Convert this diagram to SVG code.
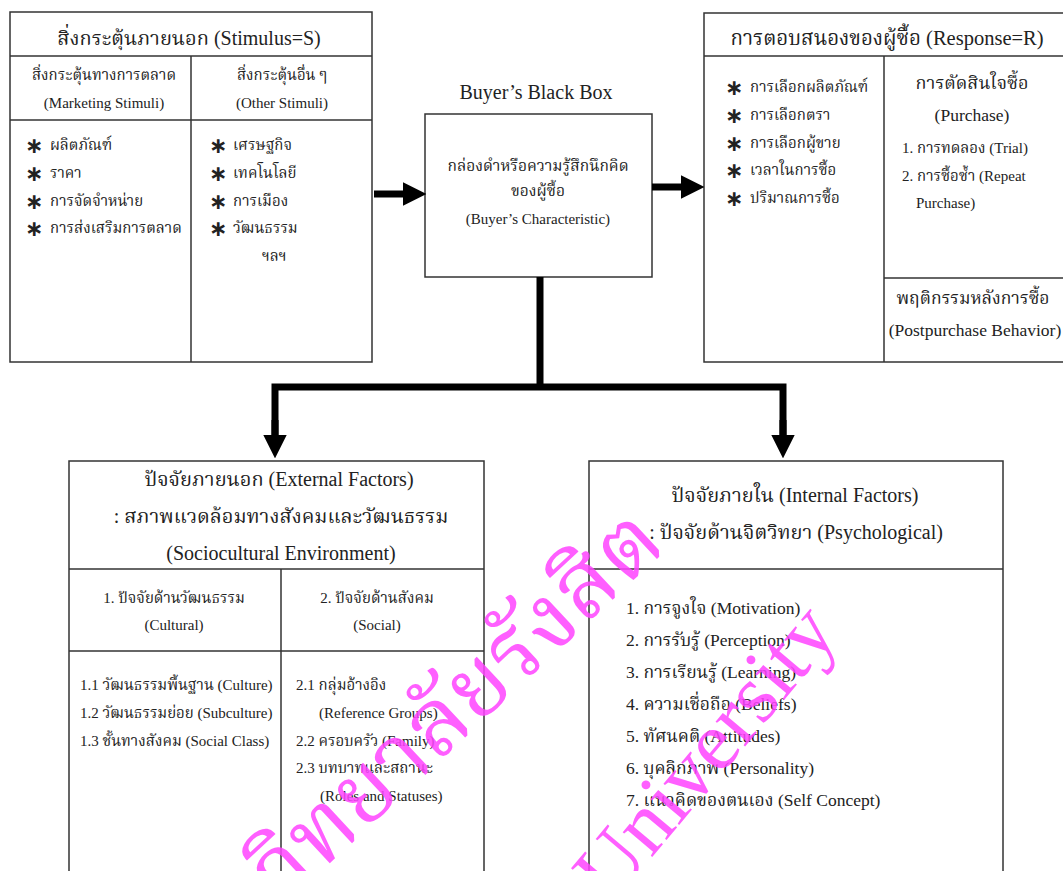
<svg xmlns="http://www.w3.org/2000/svg" width="1063" height="871" viewBox="0 0 1063 871">
<style>
text{font-family:"Liberation Serif","Noto Serif Thai","Noto Sans Thai",serif;fill:#222}
.box{fill:#fff;stroke:#333;stroke-width:1.5}
.ln{stroke:#333;stroke-width:1.5;fill:none}
.t1{font-size:20px}
.t15{font-size:15px}
.t17{font-size:17.5px}
.c{text-anchor:middle}
.star{font-family:"DejaVu Sans",sans-serif;font-size:22px;font-weight:bold;fill:#222}
.conn{stroke:#000;stroke-width:7;fill:none}
.wm{fill:#ff44ff;opacity:0.85}
</style>
<defs>
<marker id="ah" markerWidth="3.4" markerHeight="3.4" refX="0.2" refY="1.7" orient="auto" markerUnits="strokeWidth">
<path d="M0,0 L3.4,1.7 L0,3.4 z" fill="#000"/>
</marker>
</defs>

<g id="stimulus">
<rect class="box" x="10" y="12" width="362" height="350"/>
<line class="ln" x1="10" y1="56" x2="372" y2="56"/>
<line class="ln" x1="10" y1="120" x2="372" y2="120"/>
<line class="ln" x1="191" y1="56" x2="191" y2="362"/>
<text class="t1 c" x="189" y="45">สิ่งกระตุ้นภายนอก (Stimulus=S)</text>
<text class="t15 c" x="104" y="80">สิ่งกระตุ้นทางการตลาด</text>
<text class="t15 c" x="104" y="108">(Marketing Stimuli)</text>
<text class="t15 c" x="282" y="80">สิ่งกระตุ้นอื่น ๆ</text>
<text class="t15 c" x="282" y="108">(Other Stimuli)</text>
<text class="star" x="25" y="153">∗</text><text class="t15" x="50" y="150">ผลิตภัณฑ์</text>
<text class="star" x="25" y="181">∗</text><text class="t15" x="50" y="178">ราคา</text>
<text class="star" x="25" y="209">∗</text><text class="t15" x="50" y="206">การจัดจำหน่าย</text>
<text class="star" x="25" y="236">∗</text><text class="t15" x="50" y="233">การส่งเสริมการตลาด</text>
<text class="star" x="209" y="153">∗</text><text class="t15" x="233" y="150">เศรษฐกิจ</text>
<text class="star" x="209" y="181">∗</text><text class="t15" x="233" y="178">เทคโนโลยี</text>
<text class="star" x="209" y="209">∗</text><text class="t15" x="233" y="206">การเมือง</text>
<text class="star" x="209" y="236">∗</text><text class="t15" x="233" y="233">วัฒนธรรม</text>
<text class="t15" x="262" y="261">ฯลฯ</text>
</g>

<g id="blackbox">
<text class="t1 c" x="536" y="99">Buyer’s Black Box</text>
<rect class="box" x="425" y="114" width="227" height="163"/>
<text class="c" x="538" y="171" style="font-size:15.5px">กล่องดำหรือความรู้สึกนึกคิด</text>
<text class="c" x="538" y="196" style="font-size:15.5px">ของผู้ซื้อ</text>
<text class="t15 c" x="538" y="224">(Buyer’s Characteristic)</text>
</g>

<g id="response">
<rect class="box" x="704" y="13" width="370" height="349"/>
<line class="ln" x1="704" y1="56" x2="1063" y2="56"/>
<line class="ln" x1="884" y1="56" x2="884" y2="362"/>
<line class="ln" x1="884" y1="278" x2="1063" y2="278"/>
<text class="t1 c" x="887" y="45" style="font-size:20.5px">การตอบสนองของผู้ซื้อ (Response=R)</text>
<text class="star" x="725" y="95">∗</text><text class="t15" x="750" y="92">การเลือกผลิตภัณฑ์</text>
<text class="star" x="725" y="123">∗</text><text class="t15" x="750" y="120">การเลือกตรา</text>
<text class="star" x="725" y="151">∗</text><text class="t15" x="750" y="148">การเลือกผู้ขาย</text>
<text class="star" x="725" y="178">∗</text><text class="t15" x="750" y="175">เวลาในการซื้อ</text>
<text class="star" x="725" y="206">∗</text><text class="t15" x="750" y="203">ปริมาณการซื้อ</text>
<text class="c" x="972" y="89" style="font-size:18px">การตัดสินใจซื้อ</text>
<text class="t17 c" x="972" y="121">(Purchase)</text>
<text class="t15" x="902" y="153">1. การทดลอง (Trial)</text>
<text class="t15" x="902" y="181">2. การซื้อซ้ำ (Repeat</text>
<text class="t15" x="916" y="208">Purchase)</text>
<text class="t17 c" x="973" y="304">พฤติกรรมหลังการซื้อ</text>
<text class="t17 c" x="975" y="336">(Postpurchase Behavior)</text>
</g>

<g id="external">
<rect class="box" x="69" y="461" width="415" height="420"/>
<line class="ln" x1="69" y1="569" x2="484" y2="569"/>
<line class="ln" x1="69" y1="651" x2="484" y2="651"/>
<line class="ln" x1="281" y1="569" x2="281" y2="871"/>
<text class="t1 c" x="279" y="486">ปัจจัยภายนอก (External Factors)</text>
<text class="t1 c" x="281" y="523">: สภาพแวดล้อมทางสังคมและวัฒนธรรม</text>
<text class="t1 c" x="281" y="560">(Sociocultural Environment)</text>
<text class="t15 c" x="174" y="603">1. ปัจจัยด้านวัฒนธรรม</text>
<text class="t15 c" x="174" y="630">(Cultural)</text>
<text class="t15 c" x="377" y="603">2. ปัจจัยด้านสังคม</text>
<text class="t15 c" x="377" y="630">(Social)</text>
<text class="t15" x="80" y="690">1.1 วัฒนธรรมพื้นฐาน (Culture)</text>
<text class="t15" x="80" y="718">1.2 วัฒนธรรมย่อย (Subculture)</text>
<text class="t15" x="80" y="746">1.3 ชั้นทางสังคม (Social Class)</text>
<text class="t15" x="296" y="690">2.1 กลุ่มอ้างอิง</text>
<text class="t15" x="319" y="718">(Reference Groups)</text>
<text class="t15" x="296" y="746">2.2 ครอบครัว (Family)</text>
<text class="t15" x="296" y="773">2.3 บทบาทและสถานะ</text>
<text class="t15" x="320" y="801">(Roles and Statuses)</text>
</g>

<g id="internal">
<rect class="box" x="589" y="461" width="414" height="420"/>
<line class="ln" x1="589" y1="569" x2="1003" y2="569"/>
<text class="t1 c" x="795" y="502">ปัจจัยภายใน (Internal Factors)</text>
<text class="t1 c" x="796" y="539">: ปัจจัยด้านจิตวิทยา (Psychological)</text>
<text class="t17" x="626" y="614">1. การจูงใจ (Motivation)</text>
<text class="t17" x="626" y="646">2. การรับรู้ (Perception)</text>
<text class="t17" x="626" y="678">3. การเรียนรู้ (Learning)</text>
<text class="t17" x="626" y="710">4. ความเชื่อถือ (Beliefs)</text>
<text class="t17" x="626" y="742">5. ทัศนคติ (Attitudes)</text>
<text class="t17" x="626" y="774">6. บุคลิกภาพ (Personality)</text>
<text class="t17" x="626" y="806">7. แนวคิดของตนเอง (Self Concept)</text>
</g>

<g id="connectors">
<line class="conn" x1="374" y1="194" x2="404" y2="194" marker-end="url(#ah)"/>
<line class="conn" x1="652" y1="187" x2="682" y2="187" marker-end="url(#ah)"/>
<polyline class="conn" points="540,277 540,387"/>
<polyline class="conn" points="275,440 275,387 783,387 783,440"/>
<line class="conn" x1="275" y1="420" x2="275" y2="436" marker-end="url(#ah)"/>
<line class="conn" x1="783" y1="420" x2="783" y2="436" marker-end="url(#ah)"/>
</g>

<g id="watermark">
<text class="wm" x="0" y="0" font-size="92" transform="translate(285,905) rotate(-43)">วิทยาลัยรังสิต</text>
<text class="wm" x="0" y="0" font-size="84" transform="translate(612,905) rotate(-50)">University</text>
</g>
</svg>
